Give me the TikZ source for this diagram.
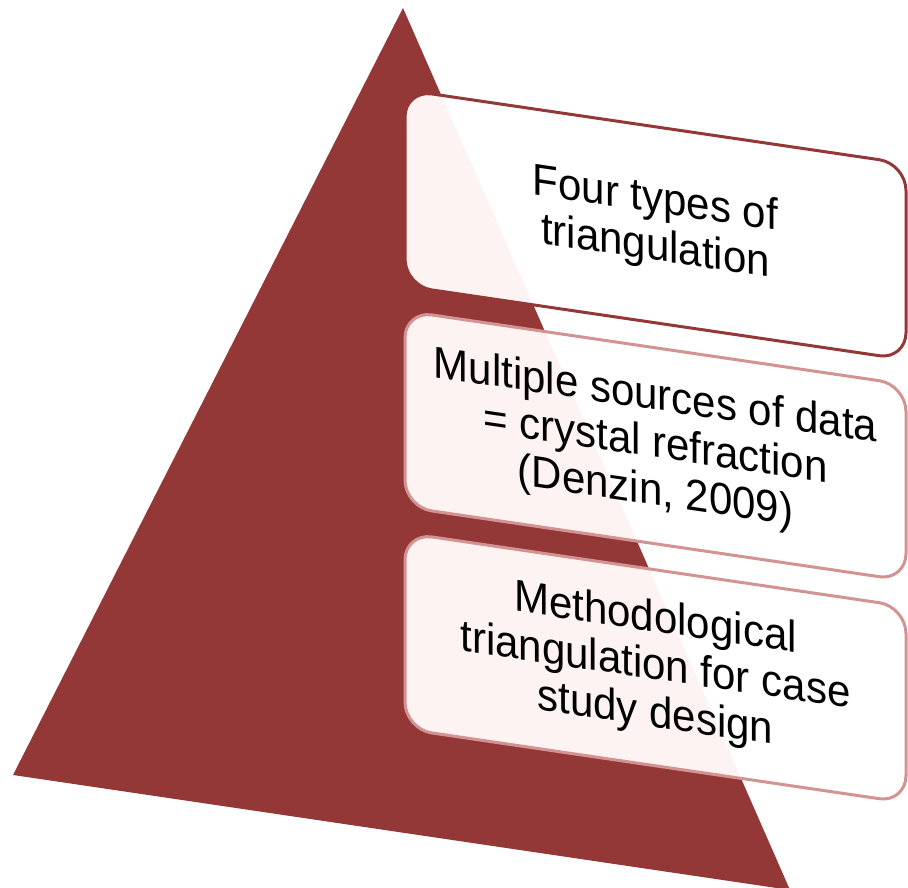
\documentclass[tikz,border=0pt]{standalone}
\usepackage{fontspec}
\setmainfont{Liberation Sans}
\definecolor{pyr}{HTML}{943837}
\definecolor{lightbd}{HTML}{D49393}
\definecolor{tint}{HTML}{FCF3F2}
\begin{document}
\begin{tikzpicture}[x=1pt,y=1pt,
  tierborder/.style={line width=3pt, rounded corners=27pt},
  tiertext/.style={transform shape, yscale=1.06, align=center, text=black, font=\fontsize{42}{45}\selectfont}]
\useasboundingbox (0,0) rectangle (908,888);
\begin{scope}
\clip (0,0) rectangle (908,888);
\fill[pyr] (403,880) coordinate (apex) -- (13,113) coordinate (bl) -- (790,-2) coordinate (br) -- cycle;
\foreach \ty/\bd/\txt/\nm in {90/pyr/{Four types of\\triangulation}/t1,
  311/lightbd/{Multiple sources of data\\= crystal refraction\\(Denzin, 2009)}/t2,
  533/lightbd/{Methodological\\triangulation for case\\study design}/t3}{
  \begin{scope}[shift={(405,888-\ty)}, yslant=-0.147]
    \fill[white, rounded corners=27pt] (0,0) rectangle (501,-196);
    \begin{scope}
      \clip[rounded corners=27pt] (0,0) rectangle (501,-196);
      \fill[tint] (apex) -- (bl) -- (br) -- cycle;
    \end{scope}
    \draw[tierborder, draw=\bd] (0,0) rectangle (501,-196);
    \node[tiertext] (\nm) at (250.5,-98) {\txt};
  \end{scope}
}
\end{scope}
\end{tikzpicture}
\end{document}
